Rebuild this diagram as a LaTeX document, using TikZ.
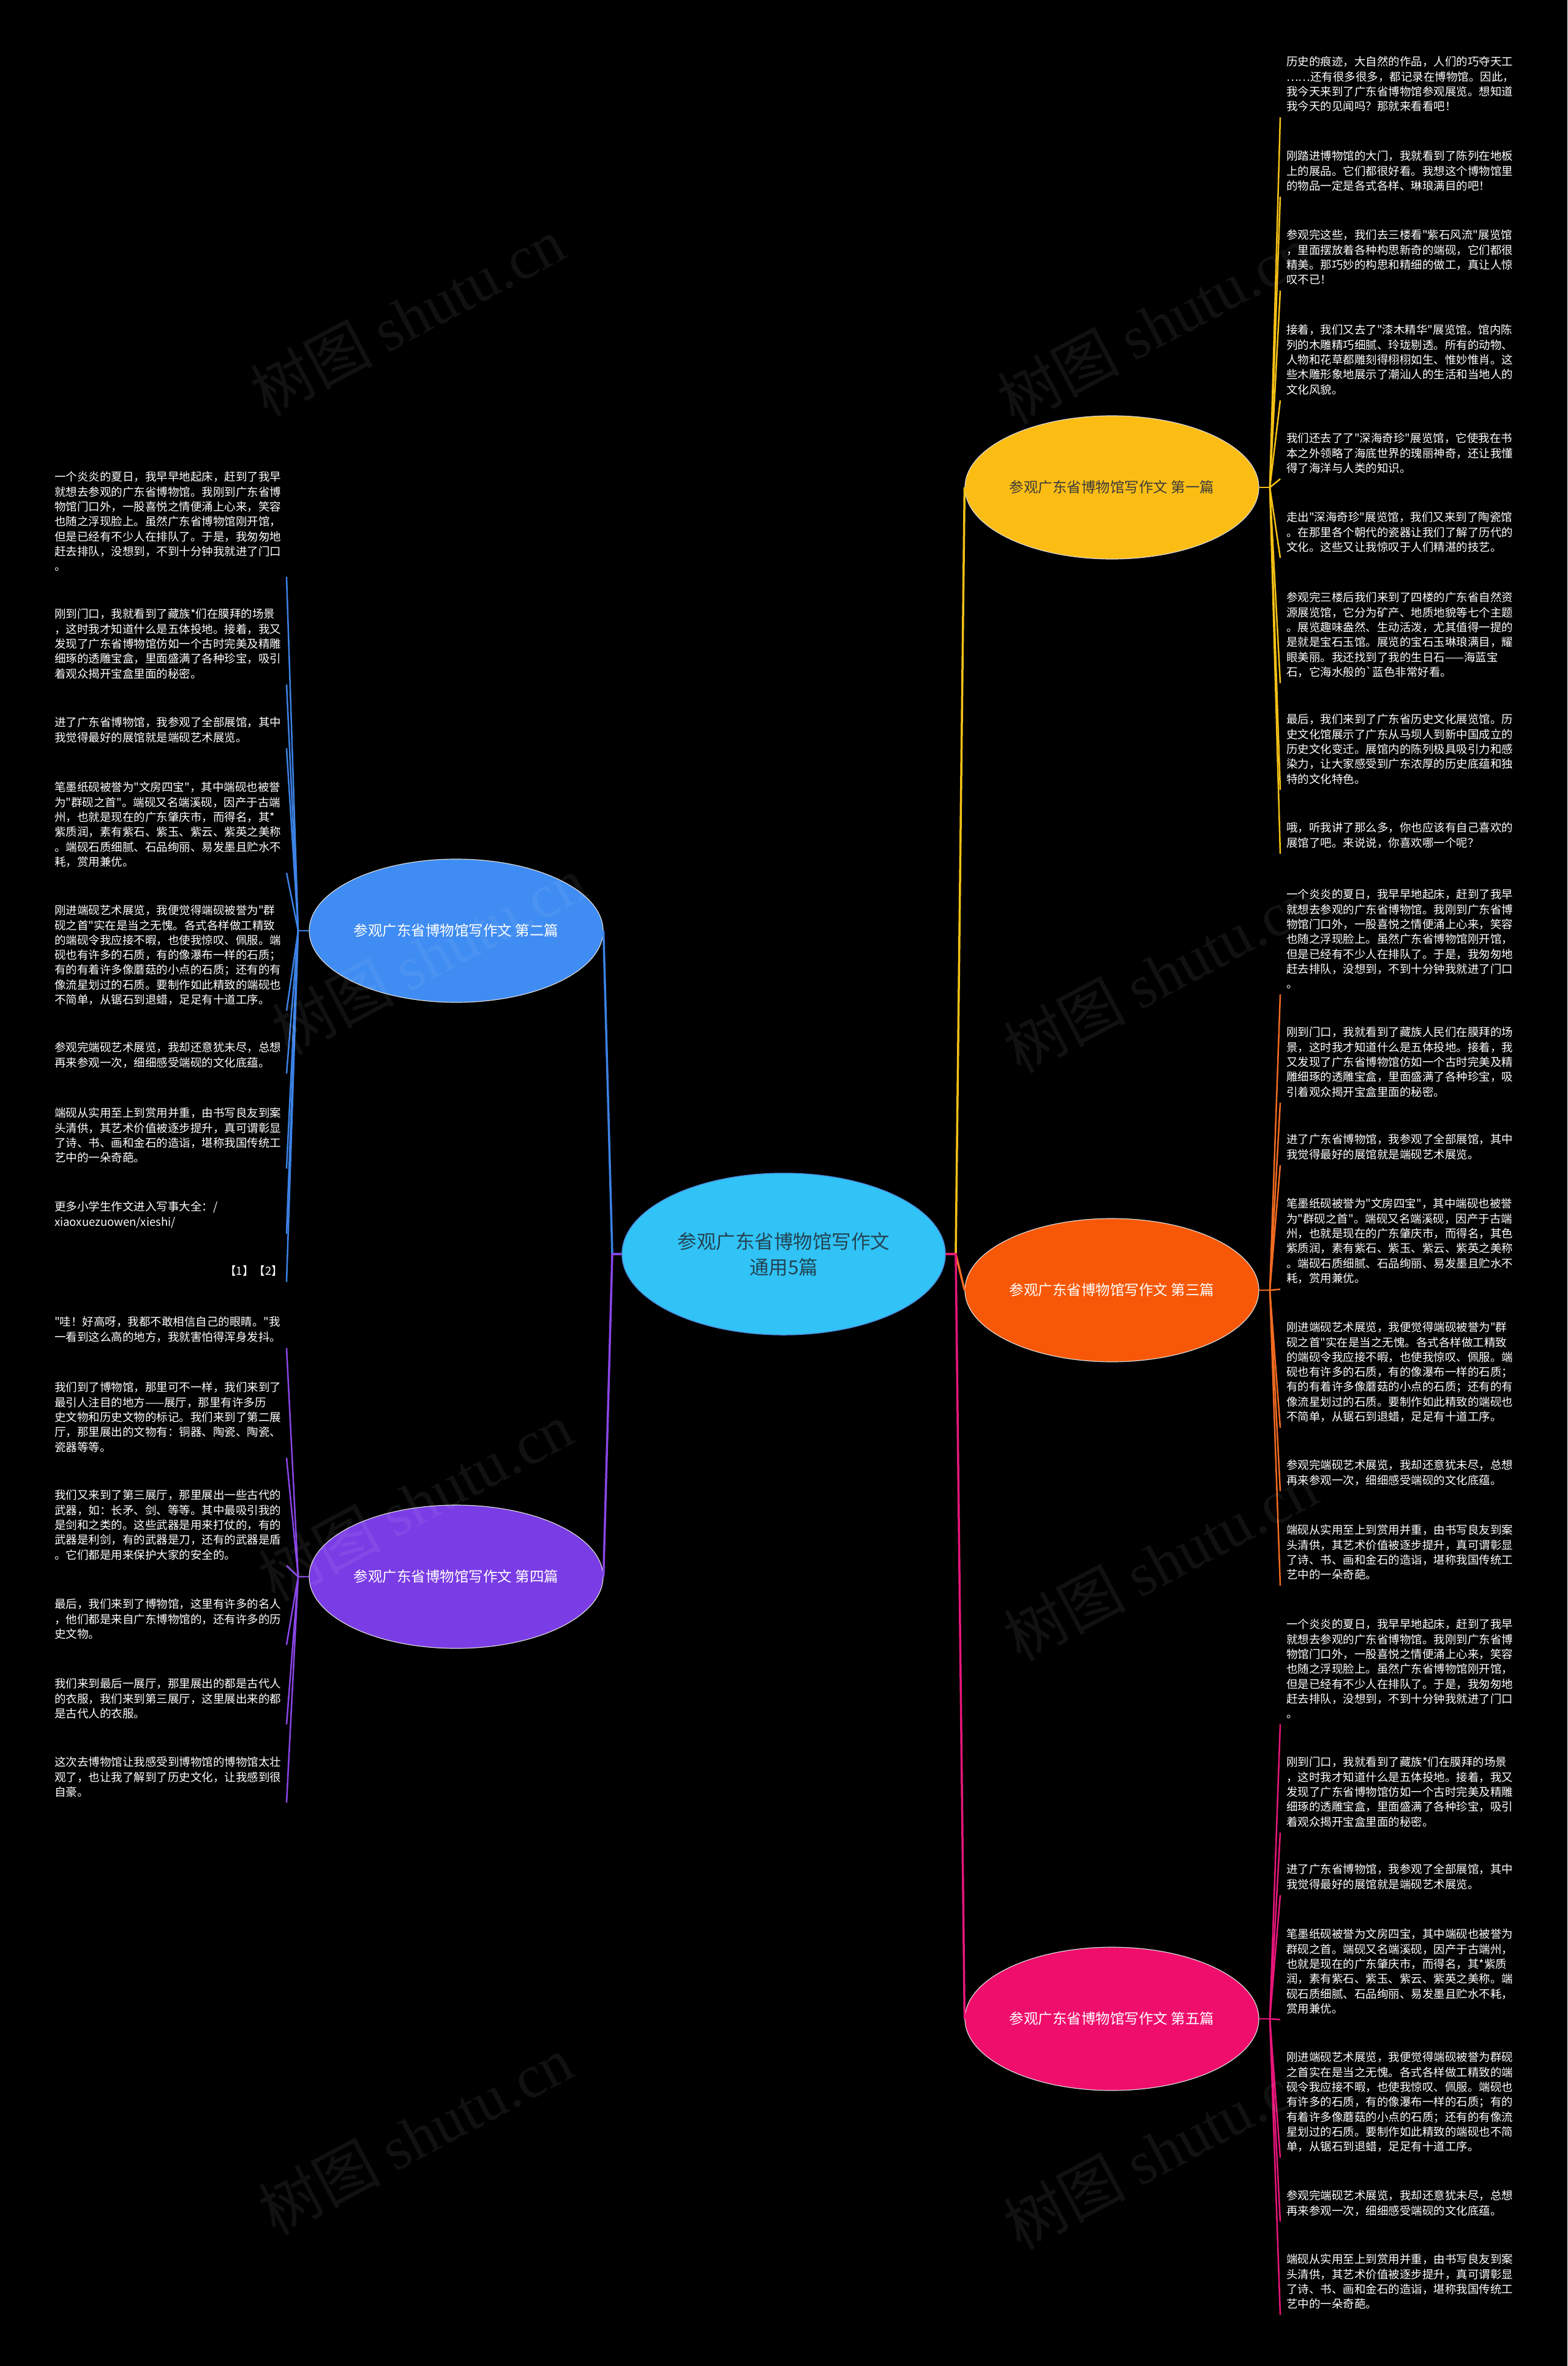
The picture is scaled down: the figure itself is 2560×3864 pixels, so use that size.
\documentclass[tikz,border=0pt]{standalone}
\usepackage{fontspec}
\newfontfamily\cjk{Noto Sans CJK SC}
\newfontfamily\wmserif{Liberation Serif}
\usetikzlibrary{shapes.geometric,calc}
\definecolor{cCenter}{HTML}{31C3F5}
\definecolor{cCenterBd}{HTML}{4A8FE0}
\definecolor{cCenterTx}{HTML}{234454}
\definecolor{cYellow}{HTML}{FBBD14}
\definecolor{cYellowTx}{HTML}{3B3B3B}
\definecolor{cOrange}{HTML}{F75808}
\definecolor{cPink}{HTML}{EF0E6C}
\definecolor{cBlue}{HTML}{3F8CF2}
\definecolor{cPurple}{HTML}{7A3CE5}
\definecolor{lYellow}{HTML}{F5C116}
\definecolor{lOrange}{HTML}{F26B21}
\definecolor{lPink}{HTML}{E8167A}
\definecolor{lBlue}{HTML}{3C82E6}
\definecolor{lPurple}{HTML}{8A46E8}
\begin{document}
\begin{tikzpicture}[x=1pt,y=-1pt,
  leaf/.style={inner sep=0pt, align=left, text=white, font=\cjk\fontsize{18.5pt}{24.3pt}\selectfont},
  lr/.style={leaf, anchor=north west},
  branch/.style={ellipse, minimum width=480pt, minimum height=234pt, inner sep=0pt, draw=white!85!black, line width=1.2pt, font=\cjk\fontsize{23.5pt}{28pt}\selectfont},
  conn/.style={line width=3.5pt},
  lk/.style={line width=2.5pt},
  wm/.style={rotate=28, text=white, opacity=0.065, font=\cjk\fontsize{100pt}{100pt}\selectfont}
]
\fill[black] (0,0) rectangle (2560,3864);
\useasboundingbox (0,0) rectangle (2560,3864);

% main nodes
\node[ellipse, fill=cCenter, draw=cCenterBd, line width=1.5pt, minimum width=528pt, minimum height=264pt, inner sep=0pt, text=cCenterTx, align=center, font=\cjk\fontsize{31.5pt}{42pt}\selectfont] (c) at (1280,2048) {参观广东省博物馆写作文\\通用5篇};
\node[branch, fill=cYellow, text=cYellowTx] (n1) at (1816,796) {参观广东省博物馆写作文 第一篇};
\node[branch, fill=cBlue, text=white] (n2) at (745,1520) {参观广东省博物馆写作文 第二篇};
\node[branch, fill=cOrange, text=white] (n3) at (1816,2107) {参观广东省博物馆写作文 第三篇};
\node[branch, fill=cPurple, text=white] (n4) at (745,2575) {参观广东省博物馆写作文 第四篇};
\node[branch, fill=cPink, text=white] (n5) at (1816,3297) {参观广东省博物馆写作文 第五篇};

% right column, first
\node[lr] (y1) at (2101,92) {历史的痕迹，大自然的作品，人们的巧夺天工\\……还有很多很多，都记录在博物馆。因此，\\我今天来到了广东省博物馆参观展览。想知道\\我今天的见闻吗？那就来看看吧！};
\node[lr] (y2) at (2101,246) {刚踏进博物馆的大门，我就看到了陈列在地板\\上的展品。它们都很好看。我想这个博物馆里\\的物品一定是各式各样、琳琅满目的吧！};
\node[lr] (y3) at (2101,375) {参观完这些，我们去三楼看"紫石风流"展览馆\\，里面摆放着各种构思新奇的端砚，它们都很\\精美。那巧妙的构思和精细的做工，真让人惊\\叹不已！};
\node[lr] (y4) at (2101,530) {接着，我们又去了"漆木精华"展览馆。馆内陈\\列的木雕精巧细腻、玲珑剔透。所有的动物、\\人物和花草都雕刻得栩栩如生、惟妙惟肖。这\\些木雕形象地展示了潮汕人的生活和当地人的\\文化风貌。};
\node[lr] (y5) at (2101,707) {我们还去了了"深海奇珍"展览馆，它使我在书\\本之外领略了海底世界的瑰丽神奇，还让我懂\\得了海洋与人类的知识。};
\node[lr] (y6) at (2101,836) {走出"深海奇珍"展览馆，我们又来到了陶瓷馆\\。在那里各个朝代的瓷器让我们了解了历代的\\文化。这些又让我惊叹于人们精湛的技艺。};
\node[lr] (y7) at (2101,967) {参观完三楼后我们来到了四楼的广东省自然资\\源展览馆，它分为矿产、地质地貌等七个主题\\。展览趣味盎然、生动活泼，尤其值得一提的\\是就是宝石玉馆。展览的宝石玉琳琅满目，耀\\眼美丽。我还找到了我的生日石——海蓝宝\\石，它海水般的`蓝色非常好看。};
\node[lr] (y8) at (2101,1166) {最后，我们来到了广东省历史文化展览馆。历\\史文化馆展示了广东从马坝人到新中国成立的\\历史文化变迁。展馆内的陈列极具吸引力和感\\染力，让大家感受到广东浓厚的历史底蕴和独\\特的文化特色。};
\node[lr] (y9) at (2101,1343) {哦，听我讲了那么多，你也应该有自己喜欢的\\展馆了吧。来说说，你喜欢哪一个呢？};

% right column, third
\node[lr] (o1) at (2101,1452) {一个炎炎的夏日，我早早地起床，赶到了我早\\就想去参观的广东省博物馆。我刚到广东省博\\物馆门口外，一股喜悦之情便涌上心来，笑容\\也随之浮现脸上。虽然广东省博物馆刚开馆，\\但是已经有不少人在排队了。于是，我匆匆地\\赶去排队，没想到，不到十分钟我就进了门口\\。};
\node[lr] (o2) at (2101,1677) {刚到门口，我就看到了藏族人民们在膜拜的场\\景，这时我才知道什么是五体投地。接着，我\\又发现了广东省博物馆仿如一个古时完美及精\\雕细琢的透雕宝盒，里面盛满了各种珍宝，吸\\引着观众揭开宝盒里面的秘密。};
\node[lr] (o3) at (2101,1852) {进了广东省博物馆，我参观了全部展馆，其中\\我觉得最好的展馆就是端砚艺术展览。};
\node[lr] (o4) at (2101,1957) {笔墨纸砚被誉为"文房四宝"，其中端砚也被誉\\为"群砚之首"。端砚又名端溪砚，因产于古端\\州，也就是现在的广东肇庆市，而得名，其色\\紫质润，素有紫石、紫玉、紫云、紫英之美称\\。端砚石质细腻、石品绚丽、易发墨且贮水不\\耗，赏用兼优。};
\node[lr] (o5) at (2101,2159) {刚进端砚艺术展览，我便觉得端砚被誉为"群\\砚之首"实在是当之无愧。各式各样做工精致\\的端砚令我应接不暇，也使我惊叹、佩服。端\\砚也有许多的石质，有的像瀑布一样的石质；\\有的有着许多像蘑菇的小点的石质；还有的有\\像流星划过的石质。要制作如此精致的端砚也\\不简单，从锯石到退蜡，足足有十道工序。};
\node[lr] (o6) at (2101,2384) {参观完端砚艺术展览，我却还意犹未尽，总想\\再来参观一次，细细感受端砚的文化底蕴。};
\node[lr] (o7) at (2101,2490) {端砚从实用至上到赏用并重，由书写良友到案\\头清供，其艺术价值被逐步提升，真可谓彰显\\了诗、书、画和金石的造诣，堪称我国传统工\\艺中的一朵奇葩。};

% right column, fifth
\node[lr] (p1) at (2101,2644) {一个炎炎的夏日，我早早地起床，赶到了我早\\就想去参观的广东省博物馆。我刚到广东省博\\物馆门口外，一股喜悦之情便涌上心来，笑容\\也随之浮现脸上。虽然广东省博物馆刚开馆，\\但是已经有不少人在排队了。于是，我匆匆地\\赶去排队，没想到，不到十分钟我就进了门口\\。};
\node[lr] (p2) at (2101,2869) {刚到门口，我就看到了藏族*们在膜拜的场景\\，这时我才知道什么是五体投地。接着，我又\\发现了广东省博物馆仿如一个古时完美及精雕\\细琢的透雕宝盒，里面盛满了各种珍宝，吸引\\着观众揭开宝盒里面的秘密。};
\node[lr] (p3) at (2101,3044) {进了广东省博物馆，我参观了全部展馆，其中\\我觉得最好的展馆就是端砚艺术展览。};
\node[lr] (p4) at (2101,3150) {笔墨纸砚被誉为文房四宝，其中端砚也被誉为\\群砚之首。端砚又名端溪砚，因产于古端州，\\也就是现在的广东肇庆市，而得名，其*紫质\\润，素有紫石、紫玉、紫云、紫英之美称。端\\砚石质细腻、石品绚丽、易发墨且贮水不耗，\\赏用兼优。};
\node[lr] (p5) at (2101,3351) {刚进端砚艺术展览，我便觉得端砚被誉为群砚\\之首实在是当之无愧。各式各样做工精致的端\\砚令我应接不暇，也使我惊叹、佩服。端砚也\\有许多的石质，有的像瀑布一样的石质；有的\\有着许多像蘑菇的小点的石质；还有的有像流\\星划过的石质。要制作如此精致的端砚也不简\\单，从锯石到退蜡，足足有十道工序。};
\node[lr] (p6) at (2101,3577) {参观完端砚艺术展览，我却还意犹未尽，总想\\再来参观一次，细细感受端砚的文化底蕴。};
\node[lr] (p7) at (2101,3681) {端砚从实用至上到赏用并重，由书写良友到案\\头清供，其艺术价值被逐步提升，真可谓彰显\\了诗、书、画和金石的造诣，堪称我国传统工\\艺中的一朵奇葩。};

% left column, second
\node[lr] (b1) at (89,770) {一个炎炎的夏日，我早早地起床，赶到了我早\\就想去参观的广东省博物馆。我刚到广东省博\\物馆门口外，一股喜悦之情便涌上心来，笑容\\也随之浮现脸上。虽然广东省博物馆刚开馆，\\但是已经有不少人在排队了。于是，我匆匆地\\赶去排队，没想到，不到十分钟我就进了门口\\。};
\node[lr] (b2) at (89,994) {刚到门口，我就看到了藏族*们在膜拜的场景\\，这时我才知道什么是五体投地。接着，我又\\发现了广东省博物馆仿如一个古时完美及精雕\\细琢的透雕宝盒，里面盛满了各种珍宝，吸引\\着观众揭开宝盒里面的秘密。};
\node[lr] (b3) at (89,1171) {进了广东省博物馆，我参观了全部展馆，其中\\我觉得最好的展馆就是端砚艺术展览。};
\node[lr] (b4) at (89,1277) {笔墨纸砚被誉为"文房四宝"，其中端砚也被誉\\为"群砚之首"。端砚又名端溪砚，因产于古端\\州，也就是现在的广东肇庆市，而得名，其*\\紫质润，素有紫石、紫玉、紫云、紫英之美称\\。端砚石质细腻、石品绚丽、易发墨且贮水不\\耗，赏用兼优。};
\node[lr] (b5) at (89,1478) {刚进端砚艺术展览，我便觉得端砚被誉为"群\\砚之首"实在是当之无愧。各式各样做工精致\\的端砚令我应接不暇，也使我惊叹、佩服。端\\砚也有许多的石质，有的像瀑布一样的石质；\\有的有着许多像蘑菇的小点的石质；还有的有\\像流星划过的石质。要制作如此精致的端砚也\\不简单，从锯石到退蜡，足足有十道工序。};
\node[lr] (b6) at (89,1702) {参观完端砚艺术展览，我却还意犹未尽，总想\\再来参观一次，细细感受端砚的文化底蕴。};
\node[lr] (b7) at (89,1809) {端砚从实用至上到赏用并重，由书写良友到案\\头清供，其艺术价值被逐步提升，真可谓彰显\\了诗、书、画和金石的造诣，堪称我国传统工\\艺中的一朵奇葩。};
\node[lr] (b8) at (89,1962) {更多小学生作文进入写事大全：/\\xiaoxuezuowen/xieshi/};
\node[leaf, anchor=north east] (b9) at (462,2067) {【1】【2】};

% left column, fourth
\node[lr] (u1) at (89,2150) {"哇！好高呀，我都不敢相信自己的眼睛。"我\\一看到这么高的地方，我就害怕得浑身发抖。};
\node[lr] (u2) at (89,2257) {我们到了博物馆，那里可不一样，我们来到了\\最引人注目的地方——展厅，那里有许多历\\史文物和历史文物的标记。我们来到了第二展\\厅，那里展出的文物有：铜器、陶瓷、陶瓷、\\瓷器等等。};
\node[lr] (u3) at (89,2433) {我们又来到了第三展厅，那里展出一些古代的\\武器，如：长矛、剑、等等。其中最吸引我的\\是剑和之类的。这些武器是用来打仗的，有的\\武器是利剑，有的武器是刀，还有的武器是盾\\。它们都是用来保护大家的安全的。};
\node[lr] (u4) at (89,2611) {最后，我们来到了博物馆，这里有许多的名人\\，他们都是来自广东博物馆的，还有许多的历\\史文物。};
\node[lr] (u5) at (89,2741) {我们来到最后一展厅，那里展出的都是古代人\\的衣服，我们来到第三展厅，这里展出来的都\\是古代人的衣服。};
\node[lr] (u6) at (89,2869) {这次去博物馆让我感受到博物馆的博物馆太壮\\观了，也让我了解到了历史文化，让我感到很\\自豪。};

% junctions
\coordinate (jr) at (1561,2048);
\coordinate (jl) at (1000,2048);
\coordinate (j1) at (2074,796);
\coordinate (j3) at (2074,2107);
\coordinate (j5) at (2074,3297);
\coordinate (j2) at (487,1520);
\coordinate (j4) at (487,2575);

% main connectors
\draw[conn, lYellow] (c.east) -- (jr) -- (n1.west);
\draw[conn, lOrange] (c.east) -- (jr) -- (n3.west);
\draw[conn, lPink] (c.east) -- (jr) -- (n5.west);
\draw[conn, lBlue] (c.west) -- (jl) -- (n2.east);
\draw[conn, lPurple] (c.west) -- (jl) -- (n4.east);

% leaf connectors
\draw[lk, lYellow] (n1.east) -- (j1);
\foreach \n in {y1,y2,y3,y4,y5,y6,y7,y8,y9} \draw[lk, lYellow] (j1) -- ($(\n.south west)+(-10,9)$);
\draw[lk, lOrange] (n3.east) -- (j3);
\foreach \n in {o1,o2,o3,o4,o5,o6,o7} \draw[lk, lOrange] (j3) -- ($(\n.south west)+(-10,9)$);
\draw[lk, lPink] (n5.east) -- (j5);
\foreach \n in {p1,p2,p3,p4,p5,p6,p7} \draw[lk, lPink] (j5) -- ($(\n.south west)+(-10,9)$);
\draw[lk, lBlue] (n2.west) -- (j2);
\foreach \n in {b1,b2,b3,b4,b5,b6,b7,b8} \draw[lk, lBlue] (j2) -- ($(\n.south west)+(379,9)$);
\draw[lk, lBlue] (j2) -- ($(b9.south east)+(6,9)$);
\draw[lk, lPurple] (n4.west) -- (j4);
\foreach \n in {u1,u2,u3,u4,u5,u6} \draw[lk, lPurple] (j4) -- ($(\n.south west)+(379,9)$);

% watermarks
\node[wm] (w1) at (665,517) {树图 {\wmserif shutu.cn}};
\node[wm] (w2) at (1885,530) {树图 {\wmserif shutu.cn}};
\node[wm] (w3) at (700,1560) {树图 {\wmserif shutu.cn}};
\node[wm] (w4) at (1895,1590) {树图 {\wmserif shutu.cn}};
\node[wm] (w5) at (678,2452) {树图 {\wmserif shutu.cn}};
\node[wm] (w6) at (1895,2550) {树图 {\wmserif shutu.cn}};
\node[wm] (w7) at (678,3487) {树图 {\wmserif shutu.cn}};
\node[wm] (w8) at (1895,3511) {树图 {\wmserif shutu.cn}};
\end{tikzpicture}
\end{document}
